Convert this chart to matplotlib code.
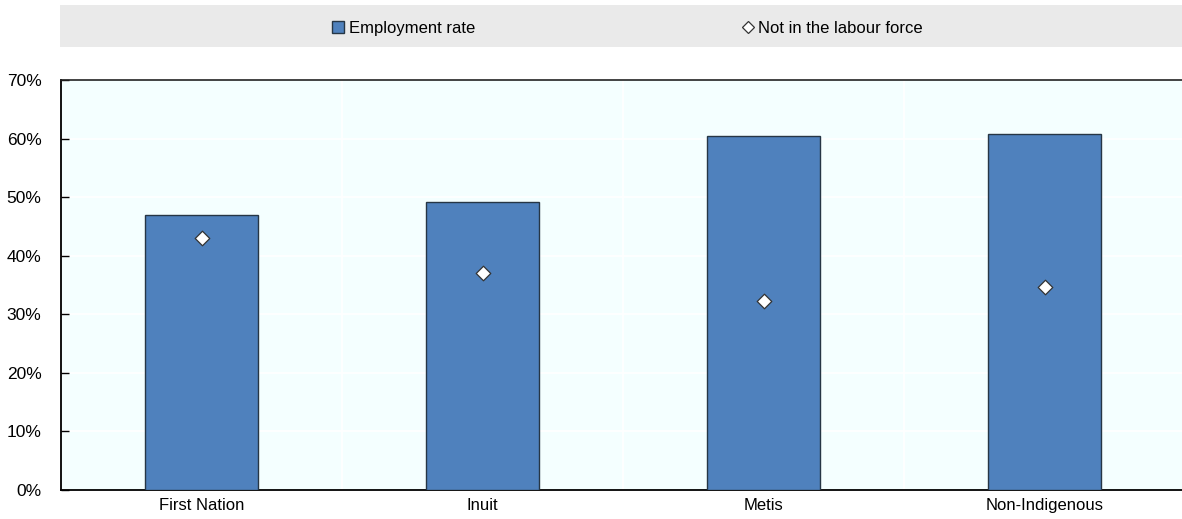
import numpy as np
import matplotlib.pyplot as plt
from matplotlib.patches import Rectangle, Patch
from matplotlib.lines import Line2D
from matplotlib.ticker import PercentFormatter

plt.rcParams['font.family'] = ['Liberation Sans Narrow', 'Liberation Sans', 'DejaVu Sans']

# Employment and inactivity rates by group
groups = ['First Nation', 'Inuit', 'Metis', 'Non-Indigenous']
employment = [47.0, 49.1, 60.5, 60.7]
not_in_lf = [43.0, 37.0, 32.2, 34.7]

fig = plt.figure(figsize=(11.82, 5.19), dpi=100)
ax = fig.add_axes([0.0516, 0.0559, 0.951, 0.790])
ax.set_facecolor('#F4FFFF')

x = np.arange(len(groups))
ax.bar(x, employment, width=0.40, color='#4F81BD', edgecolor='#263645',
       linewidth=1, zorder=3)
ax.scatter(x, not_in_lf, marker='D', s=55, facecolor='white',
           edgecolor='#333333', linewidth=0.9, zorder=4)

ax.set_xlim(-0.5, 3.5)
ax.set_ylim(0, 70)
ax.set_yticks(np.arange(0, 71, 10))
ax.yaxis.set_major_formatter(PercentFormatter(decimals=0))
ax.set_xticks(x)
ax.set_xticklabels(groups)

# white grid: horizontal at every tick, vertical between categories
for y in np.arange(10, 70, 10):
    ax.axhline(y, color='white', linewidth=1.2, zorder=1)
for xb in np.arange(0.5, 3.5, 1):
    ax.axvline(xb, color='white', linewidth=1.2, zorder=1)

ax.spines['right'].set_visible(False)
ax.spines['top'].set_color('#222222')
ax.spines['top'].set_linewidth(1.2)
for s in ['left', 'bottom']:
    ax.spines[s].set_color('black')
    ax.spines[s].set_linewidth(1.3)
ax.tick_params(axis='y', direction='in', length=6, width=1, labelsize=12.5, pad=14)
ax.tick_params(axis='x', length=0, labelsize=12, pad=6)

# legend strip
fig.patches.append(Rectangle((0.0508, 0.9094), 0.9492, 0.081, transform=fig.transFigure,
                             facecolor='#EAEAEA', edgecolor='none', zorder=0))
handles = [
    Patch(facecolor='#4F81BD', edgecolor='#263645', linewidth=1),
    Line2D([], [], marker='D', linestyle='none', markersize=6,
           markerfacecolor='white', markeredgecolor='#333333', markeredgewidth=0.9),
]
fig.legend(handles, ['Employment rate', 'Not in the labour force'], ncol=2,
           loc='center', bbox_to_anchor=(0.531, 0.946), frameon=False,
           fontsize=12, handlelength=0.7, handleheight=0.7, handletextpad=0.3,
           columnspacing=16)

fig.savefig('out.png', dpi=100)
